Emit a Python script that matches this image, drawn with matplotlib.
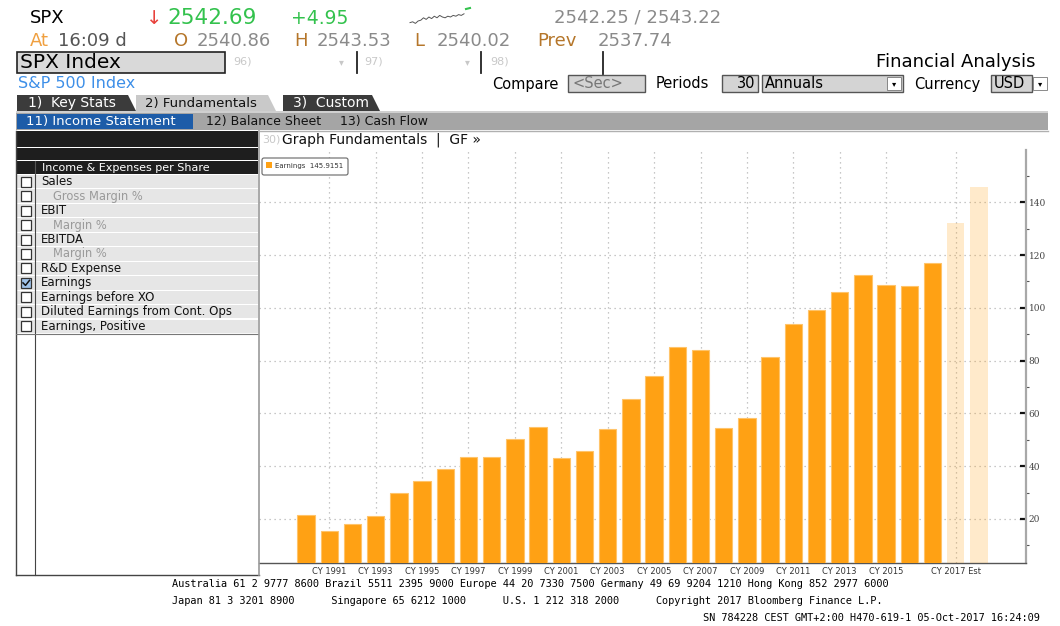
import matplotlib
matplotlib.use("Agg")
import matplotlib.pyplot as plt
from matplotlib.patches import Rectangle, Polygon, FancyBboxPatch
from matplotlib.ticker import FixedLocator

plt.rcParams["font.family"] = ["DejaVu Sans"]

# ------------------------------------------------------------
# data
# ------------------------------------------------------------
years = list(range(1990, 2020))
earnings = [21.5, 15.5, 18.0, 21.1, 29.8, 34.3, 38.9, 43.6, 43.6, 50.1,
            54.8, 42.9, 45.9, 54.1, 65.5, 74.0, 85.3, 84.2, 54.3, 58.3,
            81.5, 93.7, 99.3, 106.0, 112.3, 108.7, 108.4, 116.8, 132.0, 145.9151]
is_estimate = [False] * 28 + [True, True]
tick_pos = [1, 3, 5, 7, 9, 11, 13, 15, 17, 19, 21, 23, 25, 28]
tick_labels = ["CY 1991", "CY 1993", "CY 1995", "CY 1997", "CY 1999", "CY 2001",
               "CY 2003", "CY 2005", "CY 2007", "CY 2009", "CY 2011", "CY 2013",
               "CY 2015", "CY 2017 Est"]
y_ticks = [20, 40, 60, 80, 100, 120, 140]

menu_items = ["Sales", "Gross Margin %", "EBIT", "Margin %", "EBITDA", "Margin %",
              "R&D Expense", "Earnings", "Earnings before XO",
              "Diluted Earnings from Cont. Ops", "Earnings, Positive"]
menu_sub = [False, True, False, True, False, True, False, False, False, False, False]
menu_checked = [False] * 7 + [True] + [False] * 3

spark = [3, 4, 2, 5, 6, 9, 7, 10, 8, 11, 9, 12, 10, 9, 11, 10, 12, 11, 13, 12, 14]

W, H = 1060, 626
fig = plt.figure(figsize=(W / 100, H / 100), dpi=100)
fig.patch.set_facecolor("white")

# full-figure pixel canvas for the terminal chrome
bg = fig.add_axes([0, 0, 1, 1])
bg.set_xlim(0, W)
bg.set_ylim(H, 0)
bg.axis("off")


def txt(x, y, s, size=9, color="black", **kw):
    kw.setdefault("va", "center")
    kw.setdefault("ha", "left")
    bg.text(x, y, s, fontsize=size, color=color, **kw)


def box(x0, y0, x1, y1, fc="white", ec="none", lw=1.0, z=1):
    bg.add_patch(Rectangle((x0, y0), x1 - x0, y1 - y0, facecolor=fc,
                           edgecolor=ec, linewidth=lw, zorder=z))


GRAY = "#8a8a8a"
BROWN = "#b5762a"

# --- quote rows ---
txt(30, 18, "SPX", 13)
txt(146, 18, "↓", 14, "#e8413c")
txt(167, 18, "2542.69", 15.5, "#33c24d")
txt(291, 18, "+4.95", 13.5, "#33c24d")
sx = [410 + i * 2.7 for i in range(len(spark))]
sy = [25 - v * 0.8 for v in spark]
bg.plot(sx, sy, color="#555555", lw=0.7)
bg.plot([466, 470], [9, 8], color="#33c24d", lw=1.5)
txt(554, 18, "2542.25 / 2543.22", 13, GRAY)

txt(30, 41, "At", 13, "#f0a040")
txt(58, 41, "16:09 d", 13, "#555555")
txt(174, 41, "O", 13, BROWN)
txt(197, 41, "2540.86", 13, GRAY)
txt(294, 41, "H", 13, BROWN)
txt(317, 41, "2543.53", 13, GRAY)
txt(414, 41, "L", 13, BROWN)
txt(437, 41, "2540.02", 13, GRAY)
txt(537, 41, "Prev", 13, BROWN)
txt(598, 41, "2537.74", 13, GRAY)

# --- security row ---
box(17, 52, 225, 73, fc="#d9d9d9", ec="#222222", lw=1.2)
txt(20, 63, "SPX Index", 14.5)
txt(233, 62, "96)", 8, "#c8c8c8")
txt(341, 62, "▾", 7, "#c8c8c8", ha="center")
bg.plot([357, 357], [52, 73], color="#222222", lw=1.3)
txt(364, 62, "97)", 8, "#c8c8c8")
txt(467, 62, "▾", 7, "#c8c8c8", ha="center")
bg.plot([481, 481], [52, 73], color="#222222", lw=1.3)
txt(490, 62, "98)", 8, "#c8c8c8")
bg.plot([603, 603], [52, 74], color="#222222", lw=1.3)
txt(1035, 62, "Financial Analysis", 13, ha="right")

txt(18, 84, "S&P 500 Index", 11.5, "#3d8fe8")
txt(492, 84, "Compare", 10.5)
box(568, 75, 645, 92, fc="#d4d4d4", ec="#555555")
txt(572, 84, "<Sec>", 10.5, "#777777")
txt(656, 84, "Periods", 10.5)
box(722, 75, 758, 92, fc="#d4d4d4", ec="#555555")
txt(755, 84, "30", 10.5, ha="right")
box(762, 75, 903, 92, fc="#d4d4d4", ec="#555555")
txt(765, 84, "Annuals", 10.5)
box(887, 77, 901, 90, fc="white", ec="#777777", lw=0.6)
txt(894, 84, "▾", 6, ha="center")
txt(914, 84, "Currency", 10.5)
box(991, 75, 1032, 92, fc="#d4d4d4", ec="#555555")
txt(994, 84, "USD", 10.5)
box(1033, 77, 1047, 90, fc="white", ec="#777777", lw=0.6)
txt(1040, 84, "▾", 6, ha="center")

# --- tabs ---
bg.add_patch(Polygon([(17, 111), (17, 95), (128, 95), (136, 111)],
                     closed=True, fc="#3b3b3b", ec="none"))
bg.add_patch(Polygon([(136, 111), (136, 95), (268, 95), (276, 111)],
                     closed=True, fc="#c9c9c9", ec="none"))
bg.add_patch(Polygon([(283, 111), (283, 95), (372, 95), (380, 111)],
                     closed=True, fc="#3b3b3b", ec="none"))
txt(28, 103, "1)  Key Stats", 10, "white")
txt(145, 103, "2) Fundamentals", 9.5, "#111111")
txt(293, 103, "3)  Custom", 10, "white")
box(16, 111, 1048, 113, fc="#d0d0d0")
box(16, 113, 1048, 130, fc="#a5a5a5")
box(17, 114, 193, 129, fc="#1d5ca8")
txt(26, 122, "11) Income Statement", 9.5, "white")
txt(206, 122, "12) Balance Sheet", 9, "#111111")
txt(340, 122, "13) Cash Flow", 9, "#111111")

# --- left menu ---
box(16, 131, 258, 147, fc="#1e1e1e")
box(16, 148, 258, 160, fc="#1e1e1e")
box(16, 161, 258, 174, fc="#1e1e1e")
bg.plot([35, 35], [161, 174], color="#555555", lw=0.8)
txt(42, 168, "Income & Expenses per Share", 8, "white")
row_h = 14.45
for i, item in enumerate(menu_items):
    y0 = 175 + i * row_h
    box(16, y0, 35, y0 + row_h - 1, fc="#e6e6e6")
    box(36, y0, 258, y0 + row_h - 1, fc="#e6e6e6")
    cy = y0 + row_h / 2 - 0.5
    fc = "#9fc3ea" if menu_checked[i] else "white"
    box(21, cy - 5, 31, cy + 5, fc=fc, ec="#333333", lw=0.9, z=2)
    if menu_checked[i]:
        bg.plot([23, 25.5, 29.5], [cy, cy + 2.5, cy - 2.5], color="#111111", lw=1.1, zorder=3)
    if menu_sub[i]:
        txt(53, cy, item, 8.3, "#9a9a9a")
    else:
        txt(41, cy, item, 8.5, "#111111")
bg.plot([16, 16], [131, 575], color="#444444", lw=1.0)
bg.plot([35, 35], [175, 575], color="#444444", lw=0.8)
bg.plot([16, 259], [575, 575], color="#444444", lw=1.0)
bg.plot([16, 258], [334, 334], color="#777777", lw=0.8)
bg.plot([259, 259], [131, 575], color="#9a9a9a", lw=1.2)
bg.plot([259, 1048], [131, 131], color="#b0b0b0", lw=1.0)

# --- chart header ---
txt(262, 140, "30)", 8, "#c8c8c8")
txt(282, 140, "Graph Fundamentals  |  GF »", 10, "#111111")

# --- footer ---
mono = dict(family="DejaVu Sans Mono")
txt(172, 584, "Australia 61 2 9777 8600 Brazil 5511 2395 9000 Europe 44 20 7330 7500 "
    "Germany 49 69 9204 1210 Hong Kong 852 2977 6000", 7.4, **mono)
txt(172, 601, "Japan 81 3 3201 8900      Singapore 65 6212 1000      "
    "U.S. 1 212 318 2000      Copyright 2017 Bloomberg Finance L.P.", 7.4, **mono)
txt(1040, 618, "SN 784228 CEST GMT+2:00 H470-619-1 05-Oct-2017 16:24:09", 7.4,
    ha="right", **mono)

# ------------------------------------------------------------
# bar chart
# ------------------------------------------------------------
left, right, top, bottom = 259, 1026, 150, 563
ax = fig.add_axes([left / W, 1 - bottom / H, (right - left) / W, (bottom - top) / H])
ax.set_facecolor("none")

idx = list(range(len(years)))
solid = [e for e, est in zip(earnings, is_estimate) if not est]
solid_x = [i for i, est in zip(idx, is_estimate) if not est]
est = [e for e, est_ in zip(earnings, is_estimate) if est_]
est_x = [i for i, est_ in zip(idx, is_estimate) if est_]
ax.bar(solid_x, solid, width=0.75, color="#ffa114", edgecolor="#ffc46a",
       linewidth=0.8, zorder=3)
ax.bar(est_x, est, width=0.75, color="#ffa114", alpha=0.22, edgecolor="none",
       zorder=3)

ax.set_xlim(-2.03, 31.03)
ax.set_ylim(3.3, 159.8)

ax.xaxis.set_major_locator(FixedLocator(tick_pos))
ax.set_xticklabels(tick_labels)
ax.tick_params(axis="x", length=0, pad=3, labelsize=6, labelcolor="#333333")
ax.grid(True, axis="both", color="#b5b5b5", linestyle=(0, (1, 3)), linewidth=0.9,
        zorder=1)

ax.yaxis.tick_right()
ax.set_yticks(y_ticks)
ax.set_yticklabels([str(v) for v in y_ticks], family="DejaVu Serif",
                   fontsize=6.5, color="#444444")
ax.yaxis.set_minor_locator(FixedLocator([10, 30, 50, 70, 90, 110, 130, 150]))
ax.tick_params(axis="y", which="major", direction="in", length=4, width=1.6,
               color="#111111", pad=2)
ax.tick_params(axis="y", which="minor", direction="out", length=2, width=0.8,
               color="#555555")

for side in ["top", "left"]:
    ax.spines[side].set_visible(False)
ax.spines["right"].set_color("#a8a8a8")
ax.spines["right"].set_linewidth(1.6)
ax.spines["bottom"].set_color("#555555")
ax.spines["bottom"].set_linewidth(1.0)

# legend box
leg = FancyBboxPatch((262, 158), 86, 17, boxstyle="round,pad=0,rounding_size=2",
                     facecolor="white", edgecolor="#666666", linewidth=0.8, zorder=5)
bg.add_patch(leg)
bg.set_zorder(ax.get_zorder() + 1)
bg.patch.set_visible(False)
box(266, 162, 272, 168, fc="#ffa114", z=6)
txt(275, 166, "Earnings  145.9151", 5, "#333333", zorder=6)

fig.savefig("out.png", dpi=100, facecolor="white")
